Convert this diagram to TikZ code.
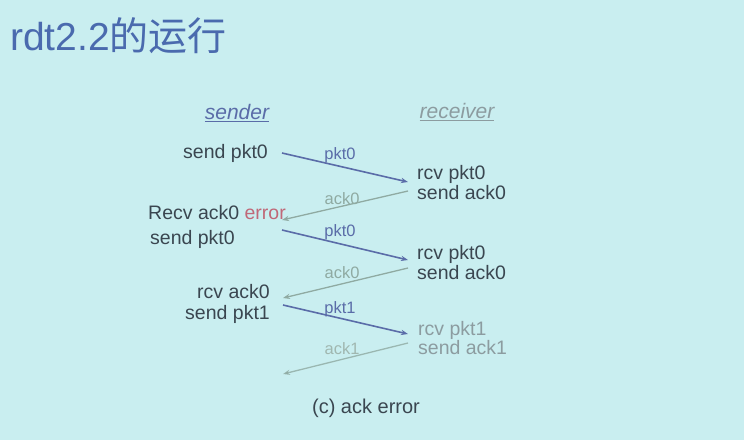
\documentclass[tikz,border=0pt]{standalone}
\usepackage{fontspec}
\setmainfont{Liberation Sans}
\newfontfamily\cjk{Noto Sans CJK SC}
\usetikzlibrary{arrows.meta}
\definecolor{bg}{HTML}{C9EEF0}
\definecolor{txt}{HTML}{3A4650}
\definecolor{pale}{HTML}{8C9CA0}
\definecolor{pktc}{HTML}{5A6CA8}
\definecolor{ackc}{HTML}{8FAAA2}
\definecolor{errc}{HTML}{C06878}
\definecolor{titc}{HTML}{4A6AAE}
\tikzset{
 lbl/.style={font=\fontsize{19.5}{22}\selectfont, text=txt, inner sep=0pt},
 small/.style={font=\fontsize{16.5}{19}\selectfont, inner sep=0pt},
 pktarrow/.style={pktc, line width=1.6pt, -{Stealth[length=7pt]}},
 ackarrow/.style={ackc, line width=1.3pt, -{Stealth[length=7pt]}},
}
\begin{document}
\begin{tikzpicture}[x=1pt,y=-1pt]
\fill[bg] (0,0) rectangle (744,440);
\useasboundingbox (0,0) rectangle (744,440);
\node[anchor=west, text=titc, inner sep=0pt, font=\fontsize{39}{44}\selectfont] (title) at (10,36) {rdt2.2{\cjk 的运行}};
\node[lbl, text=pktc, font=\fontsize{21}{24}\selectfont\itshape] (snd) at (237,113) {\underline{sender}};
\node[lbl, text=pale, font=\fontsize{21}{24}\selectfont\itshape] (rcv) at (457,112) {\underline{receiver}};
% sender side
\node[lbl, anchor=east] (s1) at (268,153) {send pkt0};
\node[lbl, anchor=west] (s2) at (148,213) {Recv ack0 \textcolor{errc}{error}};
\node[lbl, anchor=west] (s3) at (150,239) {send pkt0};
\node[lbl, anchor=east] (s4) at (270,292) {rcv ack0};
\node[lbl, anchor=east] (s5) at (270,314) {send pkt1};
% receiver side
\node[lbl, anchor=west] (r1) at (417,174) {rcv pkt0};
\node[lbl, anchor=west] (r2) at (417,193) {send ack0};
\node[lbl, anchor=west] (r3) at (417,254) {rcv pkt0};
\node[lbl, anchor=west] (r4) at (417,273) {send ack0};
\node[lbl, anchor=west, text=pale] (r5) at (418,330) {rcv pkt1};
\node[lbl, anchor=west, text=pale] (r6) at (418,348) {send ack1};
% arrow ends
\coordinate (a1s) at (282,153); \coordinate (a1e) at (408,182);
\coordinate (b1s) at (408,191); \coordinate (b1e) at (282,220);
\coordinate (a2s) at (282,230); \coordinate (a2e) at (408,260);
\coordinate (b2s) at (408,268); \coordinate (b2e) at (283,298);
\coordinate (a3s) at (283,305); \coordinate (a3e) at (408,334);
\coordinate (b3s) at (408,343); \coordinate (b3e) at (283,374);
\draw[pktarrow] (a1s) -- (a1e);
\draw[ackarrow] (b1s) -- (b1e);
\draw[pktarrow] (a2s) -- (a2e);
\draw[ackarrow] (b2s) -- (b2e);
\draw[pktarrow] (a3s) -- (a3e);
\draw[ackarrow, opacity=0.8] (b3s) -- (b3e);
\node[small, text=pktc] (l1) at (340,155) {pkt0};
\node[small, text=ackc] (l2) at (342,199) {ack0};
\node[small, text=pktc] (l3) at (340,232) {pkt0};
\node[small, text=ackc] (l4) at (342,273) {ack0};
\node[small, text=pktc] (l5) at (340,309) {pkt1};
\node[small, text=ackc!85] (l6) at (342,349) {ack1};
\node[lbl, font=\fontsize{20}{23}\selectfont] (cap) at (366,408) {(c) ack error};
\end{tikzpicture}
\end{document}
